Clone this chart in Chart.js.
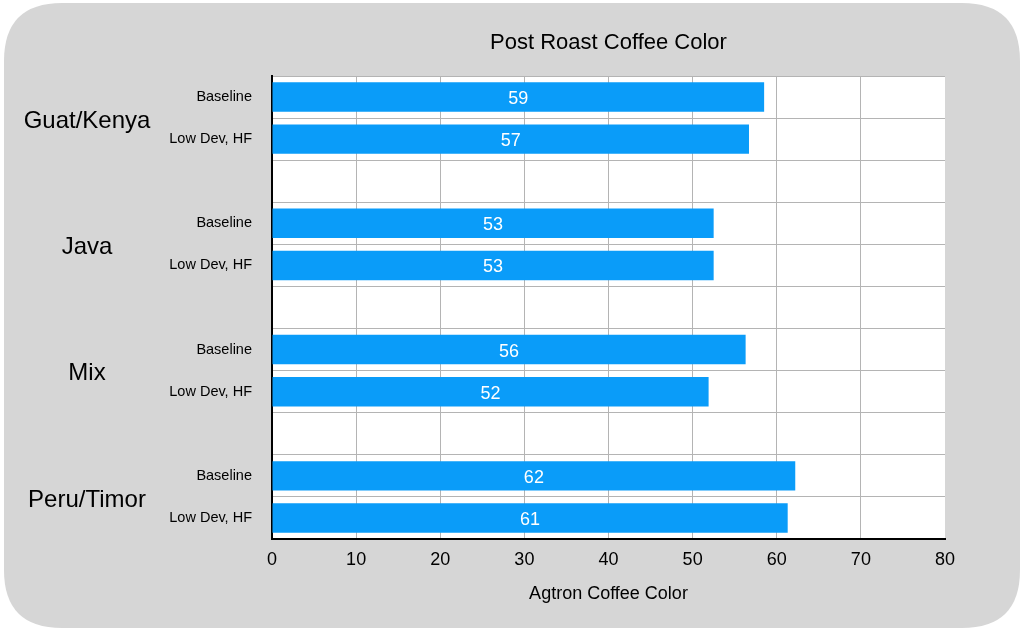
<!DOCTYPE html>
<html>
<head>
<meta charset="utf-8">
<script src="https://cdn.jsdelivr.net/npm/chart.js@4/dist/chart.umd.min.js"></script>
<style>
  html, body { margin: 0; padding: 0; background: #fff; }
  #wrap { width: 1024px; height: 630px; position: relative; }
</style>
</head>
<body>
<div id="wrap"><canvas id="chart" width="1024" height="630"></canvas></div>
<script>
  // Rows on the y axis; blank rows are the gaps between roast groups.
  var rowLabels = ['Baseline', 'Low Dev, HF', '',
                   'Baseline', 'Low Dev, HF', '',
                   'Baseline', 'Low Dev, HF', '',
                   'Baseline', 'Low Dev, HF'];
  var groupNames = ['Guat/Kenya', 'Java', 'Mix', 'Peru/Timor'];
  var groupRows  = [[0, 1], [3, 4], [6, 7], [9, 10]];
  var agtronValues = [58.5, 56.7, null,
                      52.5, 52.5, null,
                      56.3, 51.9, null,
                      62.2, 61.3];
  var xMin = 0, xMax = 80, xStep = 10;

  var FONT = '"Liberation Sans", Helvetica, Arial, sans-serif';
  var BAR = '#0a9cf9';
  var GRID = '#b4b4b4';

  function roundRect(ctx, x, y, w, h, r) {
    ctx.beginPath();
    ctx.moveTo(x + r, y);
    ctx.lineTo(x + w - r, y);
    ctx.quadraticCurveTo(x + w, y, x + w, y + r);
    ctx.lineTo(x + w, y + h - r);
    ctx.quadraticCurveTo(x + w, y + h, x + w - r, y + h);
    ctx.lineTo(x + r, y + h);
    ctx.quadraticCurveTo(x, y + h, x, y + h - r);
    ctx.lineTo(x, y + r);
    ctx.quadraticCurveTo(x, y, x + r, y);
    ctx.closePath();
  }

  // gray rounded panel + white plot area
  var panelPlugin = {
    id: 'panel',
    beforeDraw: function (chart) {
      var ctx = chart.ctx, a = chart.chartArea;
      ctx.save();
      ctx.fillStyle = '#fff';
      ctx.fillRect(0, 0, chart.width, chart.height);
      roundRect(ctx, 4, 3, 1016, 625, 58);
      ctx.fillStyle = '#d6d6d6';
      ctx.fill();
      ctx.fillStyle = '#fff';
      ctx.fillRect(a.left, a.top, a.right - a.left, a.bottom - a.top);
      ctx.restore();
    }
  };

  // title over the plot, group names, values inside the bars
  var textPlugin = {
    id: 'texts',
    afterDraw: function (chart) {
      var ctx = chart.ctx, a = chart.chartArea, y = chart.scales.y;
      ctx.save();
      ctx.fillStyle = '#000';
      ctx.textAlign = 'center';
      ctx.textBaseline = 'middle';
      ctx.font = '22px ' + FONT;
      ctx.fillText('Post Roast Coffee Color', (a.left + a.right) / 2, 43);

      ctx.font = '24px ' + FONT;
      groupNames.forEach(function (name, i) {
        var r = groupRows[i];
        var cy = (y.getPixelForValue(r[0]) + y.getPixelForValue(r[1])) / 2;
        ctx.fillText(name, 87, cy + 3);
      });

      ctx.fillStyle = '#fff';
      ctx.font = '18px ' + FONT;
      var meta = chart.getDatasetMeta(0);
      meta.data.forEach(function (bar, i) {
        var v = agtronValues[i];
        if (v === null || v === undefined) return;
        ctx.fillText(String(Math.round(v)), (bar.base + bar.x) / 2, bar.y + 2);
      });
      ctx.restore();
    }
  };

  new Chart(document.getElementById('chart'), {
    type: 'bar',
    data: {
      labels: rowLabels,
      datasets: [{
        label: 'Agtron Coffee Color',
        data: agtronValues,
        backgroundColor: BAR,
        borderWidth: 0,
        categoryPercentage: 1,
        barPercentage: 0.7
      }]
    },
    options: {
      indexAxis: 'y',
      responsive: false,
      animation: false,
      layout: { padding: { top: 76, right: 79, left: 0, bottom: 0 } },
      plugins: {
        legend: { display: false },
        title: { display: false },
        tooltip: { enabled: false }
      },
      scales: {
        x: {
          min: xMin,
          max: xMax,
          afterFit: function (s) { s.height = 91; },
          ticks: {
            stepSize: xStep,
            color: '#000',
            padding: 10,
            font: { family: FONT, size: 18 }
          },
          grid: {
            drawTicks: false,
            color: function (c) { return c.tick && c.tick.value === xMax ? 'rgba(0,0,0,0)' : GRID; },
            lineWidth: 1
          },
          border: { color: '#000', width: 2 },
          title: {
            display: true,
            text: 'Agtron Coffee Color',
            color: '#000',
            font: { family: FONT, size: 18 },
            padding: { top: 4, bottom: 25 }
          }
        },
        y: {
          afterFit: function (s) { s.width = 272; },
          ticks: {
            color: '#000',
            padding: 20,
            font: { family: FONT, size: 14.5 }
          },
          grid: {
            offset: true,
            drawTicks: false,
            color: GRID,
            lineWidth: 1
          },
          border: { color: '#000', width: 2 }
        }
      }
    },
    plugins: [panelPlugin, textPlugin]
  });
</script>
</body>
</html>
